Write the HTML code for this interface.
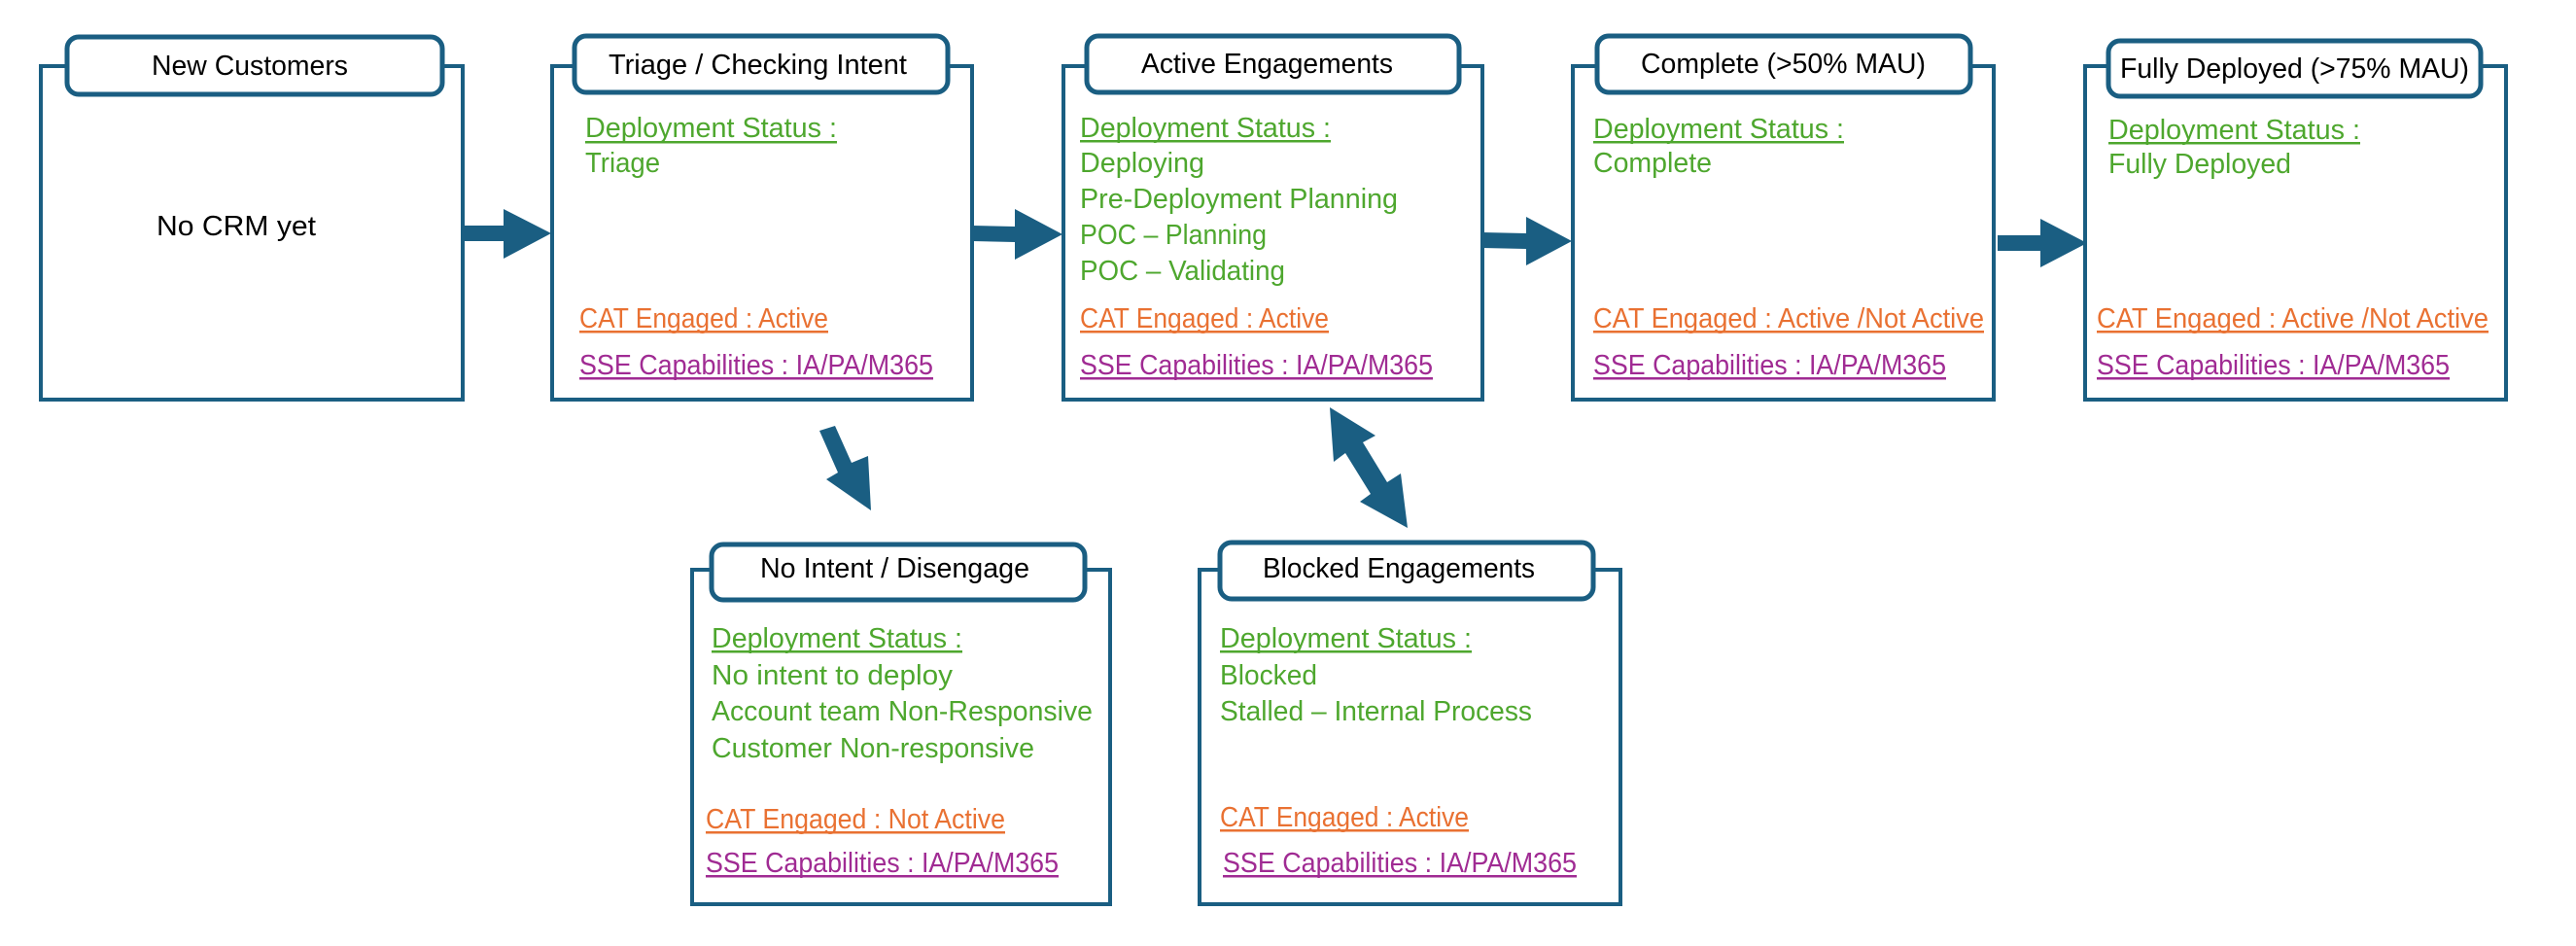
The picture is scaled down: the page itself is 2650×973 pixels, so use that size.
<!DOCTYPE html>
<html><head><meta charset="utf-8"><style>
html,body{margin:0;padding:0;background:#fff;}
svg{display:block;}
text{font-family:"Liberation Sans",sans-serif;font-size:29px;}
.h{fill:#000;}
.g{fill:#4EA72E;}
.o{fill:#E97132;}
.p{fill:#A02B93;}
.box{fill:#fff;stroke:#1A5E82;stroke-width:4;}
.pill{fill:#fff;stroke:#1A5E82;stroke-width:5;}
.ar{fill:#1A5E82;}
</style></head><body>
<svg width="2650" height="973" viewBox="0 0 2650 973" xmlns="http://www.w3.org/2000/svg">
<rect class="box" x="42" y="68" width="434" height="343"/>
<rect class="pill" x="69" y="38" width="386" height="59" rx="12"/>
<rect class="box" x="568" y="68" width="432" height="343"/>
<rect class="pill" x="591" y="37" width="384" height="58" rx="12"/>
<rect class="box" x="1094" y="68" width="431" height="343"/>
<rect class="pill" x="1118" y="37" width="383" height="58" rx="12"/>
<rect class="box" x="1618" y="68" width="433" height="343"/>
<rect class="pill" x="1643" y="37" width="384" height="58" rx="12"/>
<rect class="box" x="2145" y="68" width="433" height="343"/>
<rect class="pill" x="2169" y="42" width="383" height="57" rx="12"/>
<rect class="box" x="712" y="586" width="430" height="344"/>
<rect class="pill" x="732" y="560" width="384" height="57" rx="12"/>
<rect class="box" x="1234" y="586" width="433" height="344"/>
<rect class="pill" x="1255" y="558" width="384" height="58" rx="12"/>

<polygon class="ar" points="476,232 518,232 518,215 567,240 518,266 518,248 476,248"/>
<polygon class="ar" points="1000,232 1044,233 1044,215 1093,241 1044,267 1044,249 1000,248"/>
<polygon class="ar" points="1525,239 1570,240 1570,223 1617,248 1570,273 1570,256 1525,255"/>
<polygon class="ar" points="2055,242 2099,242 2099,225 2147,250 2099,275 2099,258 2055,258"/>
<polygon class="ar" points="843,443 859,438 876,476 893,469 896,525 850,493 862,486"/>
<polygon class="ar" points="1368,419 1415,448 1402,455 1427,496 1441,487 1448,543 1399,516 1410,508 1384,466 1372,475"/>

<text class="h" x="156" y="77" textLength="202" lengthAdjust="spacingAndGlyphs">New Customers</text>
<text class="h" x="161" y="242" textLength="164" lengthAdjust="spacingAndGlyphs">No CRM yet</text>
<text class="h" x="626" y="76" textLength="307" lengthAdjust="spacingAndGlyphs">Triage / Checking Intent</text>
<text class="h" x="1174" y="75" textLength="259" lengthAdjust="spacingAndGlyphs">Active Engagements</text>
<text class="h" x="1688" y="75" textLength="293" lengthAdjust="spacingAndGlyphs">Complete (&gt;50% MAU)</text>
<text class="h" x="2181" y="80" textLength="359" lengthAdjust="spacingAndGlyphs">Fully Deployed (&gt;75% MAU)</text>
<text class="h" x="782" y="594" textLength="277" lengthAdjust="spacingAndGlyphs">No Intent / Disengage</text>
<text class="h" x="1299" y="594" textLength="280" lengthAdjust="spacingAndGlyphs">Blocked Engagements</text>

<text class="g" x="602" y="141" textLength="259" lengthAdjust="spacingAndGlyphs">Deployment Status :</text>
<rect x="602" y="145" width="259" height="2.5" fill="#4EA72E"/>
<text class="g" x="602" y="177" textLength="77" lengthAdjust="spacingAndGlyphs">Triage</text>
<text class="o" x="596" y="337" textLength="256" lengthAdjust="spacingAndGlyphs">CAT Engaged : Active</text>
<rect x="596" y="340" width="256" height="2.5" fill="#E97132"/>
<text class="p" x="596" y="385" textLength="364" lengthAdjust="spacingAndGlyphs">SSE Capabilities : IA/PA/M365</text>
<rect x="596" y="388" width="364" height="2.5" fill="#A02B93"/>

<text class="g" x="1111" y="141" textLength="258" lengthAdjust="spacingAndGlyphs">Deployment Status :</text>
<rect x="1111" y="144" width="258" height="2.5" fill="#4EA72E"/>
<text class="g" x="1111" y="177" textLength="128" lengthAdjust="spacingAndGlyphs">Deploying</text>
<text class="g" x="1111" y="214" textLength="327" lengthAdjust="spacingAndGlyphs">Pre-Deployment Planning</text>
<text class="g" x="1111" y="251" textLength="192" lengthAdjust="spacingAndGlyphs">POC – Planning</text>
<text class="g" x="1111" y="288" textLength="211" lengthAdjust="spacingAndGlyphs">POC – Validating</text>
<text class="o" x="1111" y="337" textLength="256" lengthAdjust="spacingAndGlyphs">CAT Engaged : Active</text>
<rect x="1111" y="340" width="256" height="2.5" fill="#E97132"/>
<text class="p" x="1111" y="385" textLength="363" lengthAdjust="spacingAndGlyphs">SSE Capabilities : IA/PA/M365</text>
<rect x="1111" y="388" width="363" height="2.5" fill="#A02B93"/>

<text class="g" x="1639" y="142" textLength="258" lengthAdjust="spacingAndGlyphs">Deployment Status :</text>
<rect x="1639" y="145" width="258" height="2.5" fill="#4EA72E"/>
<text class="g" x="1639" y="177" textLength="122" lengthAdjust="spacingAndGlyphs">Complete</text>
<text class="o" x="1639" y="337" textLength="402" lengthAdjust="spacingAndGlyphs">CAT Engaged : Active /Not Active</text>
<rect x="1639" y="340" width="402" height="2.5" fill="#E97132"/>
<text class="p" x="1639" y="385" textLength="363" lengthAdjust="spacingAndGlyphs">SSE Capabilities : IA/PA/M365</text>
<rect x="1639" y="388" width="363" height="2.5" fill="#A02B93"/>

<text class="g" x="2169" y="143" textLength="259" lengthAdjust="spacingAndGlyphs">Deployment Status :</text>
<rect x="2169" y="146" width="259" height="2.5" fill="#4EA72E"/>
<text class="g" x="2169" y="178" textLength="188" lengthAdjust="spacingAndGlyphs">Fully Deployed</text>
<text class="o" x="2157" y="337" textLength="403" lengthAdjust="spacingAndGlyphs">CAT Engaged : Active /Not Active</text>
<rect x="2157" y="340" width="403" height="2.5" fill="#E97132"/>
<text class="p" x="2157" y="385" textLength="363" lengthAdjust="spacingAndGlyphs">SSE Capabilities : IA/PA/M365</text>
<rect x="2157" y="388" width="363" height="2.5" fill="#A02B93"/>

<text class="g" x="732" y="666" textLength="258" lengthAdjust="spacingAndGlyphs">Deployment Status :</text>
<rect x="732" y="669" width="258" height="2.5" fill="#4EA72E"/>
<text class="g" x="732" y="704" textLength="248" lengthAdjust="spacingAndGlyphs">No intent to deploy</text>
<text class="g" x="732" y="741" textLength="392" lengthAdjust="spacingAndGlyphs">Account team Non-Responsive</text>
<text class="g" x="732" y="779" textLength="332" lengthAdjust="spacingAndGlyphs">Customer Non-responsive</text>
<text class="o" x="726" y="852" textLength="308" lengthAdjust="spacingAndGlyphs">CAT Engaged : Not Active</text>
<rect x="726" y="855" width="308" height="2.5" fill="#E97132"/>
<text class="p" x="726" y="897" textLength="363" lengthAdjust="spacingAndGlyphs">SSE Capabilities : IA/PA/M365</text>
<rect x="726" y="900" width="363" height="2.5" fill="#A02B93"/>

<text class="g" x="1255" y="666" textLength="259" lengthAdjust="spacingAndGlyphs">Deployment Status :</text>
<rect x="1255" y="669" width="259" height="2.5" fill="#4EA72E"/>
<text class="g" x="1255" y="704" textLength="100" lengthAdjust="spacingAndGlyphs">Blocked</text>
<text class="g" x="1255" y="741" textLength="321" lengthAdjust="spacingAndGlyphs">Stalled – Internal Process</text>
<text class="o" x="1255" y="850" textLength="256" lengthAdjust="spacingAndGlyphs">CAT Engaged : Active</text>
<rect x="1255" y="853" width="256" height="2.5" fill="#E97132"/>
<text class="p" x="1258" y="897" textLength="364" lengthAdjust="spacingAndGlyphs">SSE Capabilities : IA/PA/M365</text>
<rect x="1258" y="900" width="364" height="2.5" fill="#A02B93"/>
</svg>
</body></html>
